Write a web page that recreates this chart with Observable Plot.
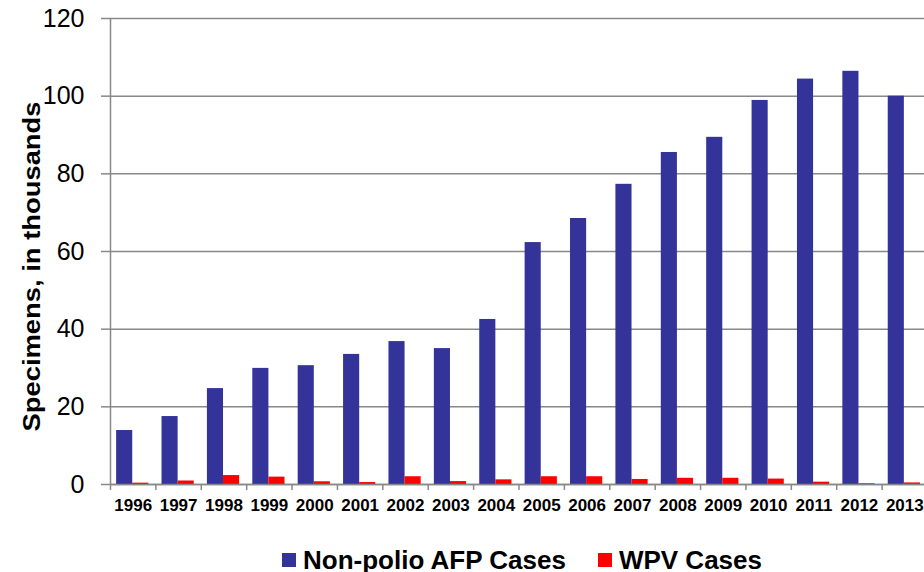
<!DOCTYPE html>
<html>
<head>
<meta charset="utf-8">
<script src="https://cdn.jsdelivr.net/npm/d3@7"></script>
<script src="https://cdn.jsdelivr.net/npm/@observablehq/plot@0.6"></script>
<style>
  html, body { margin: 0; padding: 0; background: #fff; }
  #wrap { position: relative; width: 924px; height: 572px; overflow: hidden; font-family: "Liberation Sans", Arial, sans-serif; }
  #legend { position: absolute; top: 545px; left: 282px; display: flex; align-items: center; font: bold 26px "Liberation Sans", Arial, sans-serif; line-height: 30px; color: #000; white-space: nowrap; }
  .sw { width: 14px; height: 14px; display: inline-block; margin-right: 7px; }
</style>
</head>
<body>
<div id="wrap">
  <div id="chart"></div>
  <div id="legend"></div>
</div>
<script>
const years = ["1996","1997","1998","1999","2000","2001","2002","2003","2004","2005","2006","2007","2008","2009","2010","2011","2012","2013"];
const nonPolioAFP = [13.9, 17.5, 24.7, 29.9, 30.6, 33.5, 36.8, 35.0, 42.5, 62.3, 68.5, 77.3, 85.5, 89.4, 98.9, 104.4, 106.4, 100.0];
const wpvCases = [0.35, 0.9, 2.3, 1.9, 0.7, 0.5, 2.0, 0.75, 1.2, 2.0, 2.0, 1.3, 1.6, 1.6, 1.4, 0.6, 0.2, 0.4];
const seriesNames = ["Non-polio AFP Cases", "WPV Cases"];
const seriesColors = ["#333399", "#ff0000"];
const yTicks = [0, 20, 40, 60, 80, 100, 120];
const yLabel = "Specimens, in thousands";

const W = 924, H = 530, mL = 110, mR = -3, mT = 18, mB = 46;
const bw = (W - mL - mR) / years.length;
const grey = "#888888";

const afpData = years.map((y, i) => ({year: y, value: nonPolioAFP[i]}));
const wpvData = years.map((y, i) => ({year: y, value: wpvCases[i]}));

const chart = Plot.plot({
  width: W, height: H,
  marginLeft: mL, marginRight: mR, marginTop: mT, marginBottom: mB,
  style: {fontFamily: "'Liberation Sans', Arial, sans-serif", background: "transparent", overflow: "visible"},
  x: {domain: years, padding: 0, round: false},
  y: {domain: [0, 120]},
  marks: [
    Plot.gridY(yTicks, {stroke: grey, strokeOpacity: 1, strokeWidth: 1.5}),
    Plot.barY(afpData, {x: "year", y: "value", fill: seriesColors[0], insetLeft: 0.135 * bw, insetRight: 0.51 * bw}),
    Plot.barY(wpvData, {x: "year", y: "value", fill: seriesColors[1], insetLeft: 0.49 * bw, insetRight: 0.155 * bw}),
    Plot.ruleY([0], {stroke: grey, strokeWidth: 1.5}),
    Plot.ruleX([years[0]], {dx: -bw / 2, y1: 0, y2: 120, stroke: grey, strokeWidth: 1.5}),
    Plot.axisY({ticks: yTicks, tickSize: 9, tickPadding: 17, fontSize: 25, stroke: grey, strokeWidth: 1.5, label: null, color: "#000"}),
    Plot.axisX({tickSize: 6, tickFormat: () => "", dx: -bw / 2, stroke: grey, strokeWidth: 1.5, label: null}),
    Plot.axisX({tickSize: 0, tickPadding: 14, fontSize: 17, fontWeight: "bold", label: null, color: "#000"}),
    Plot.text([yLabel], {frameAnchor: "left", textAnchor: "middle", dx: -78, dy: 15, rotate: -90, fontSize: 24.5, fontWeight: "bold", fill: "#000", className: "ylab"})
  ]
});
document.getElementById("chart").appendChild(chart);
// the reference label is drawn slightly stretched along its length
chart.querySelectorAll(".ylab text").forEach(t => {
  t.setAttribute("textLength", 330);
  t.setAttribute("lengthAdjust", "spacingAndGlyphs");
});

const legend = document.getElementById("legend");
seriesNames.forEach((name, i) => {
  const item = document.createElement("span");
  item.style.display = "inline-flex";
  item.style.alignItems = "center";
  if (i > 0) item.style.marginLeft = "32px";
  const sw = document.createElement("span");
  sw.className = "sw";
  sw.style.background = seriesColors[i];
  item.appendChild(sw);
  item.appendChild(document.createTextNode(name));
  legend.appendChild(item);
});
</script>
</body>
</html>
